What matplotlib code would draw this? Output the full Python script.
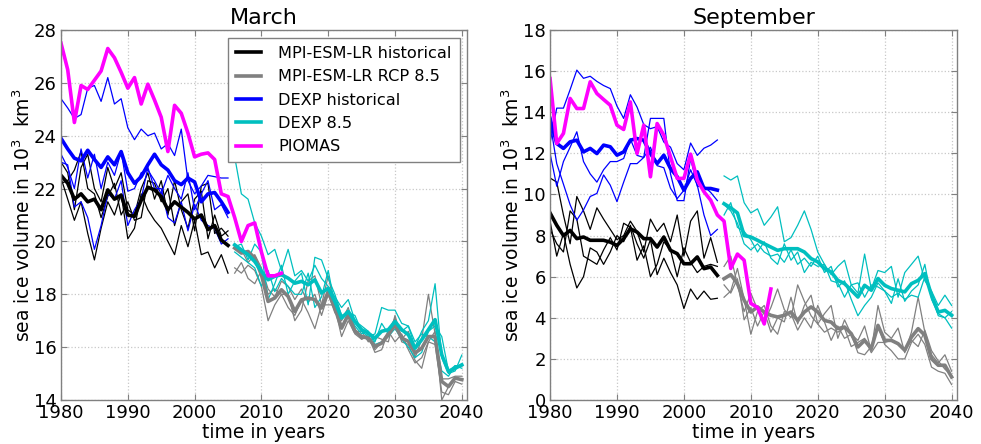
import numpy as np
import matplotlib
matplotlib.use("Agg")
import matplotlib.pyplot as plt

# ---------------- data ----------------
years_hist = list(range(1980, 2006))
years_proj = list(range(2006, 2041))
years_piomas = list(range(1980, 2014))

# March
mar_piomas = [27.5, 26.5, 24.5, 25.9, 25.75, 26.1, 26.45, 27.3, 26.95, 26.4, 25.8, 26.2, 25.2, 25.95,
              25.35, 24.7, 23.4, 25.15, 24.85, 24.1, 23.2, 23.3, 23.35, 23.1, 21.8, 21.7, 20.9, 20.0,
              20.6, 20.7, 19.6, 18.7, 18.7, 18.8]
mar_mpi_hist_mean = [22.5, 22.2, 21.6, 21.8, 21.5, 21.6, 21.2, 21.95, 21.6, 21.75, 21.0, 20.95, 21.55,
                     22.05, 21.95, 21.7, 21.2, 21.5, 21.3, 21.1, 20.85, 21.0, 20.45, 20.6, 20.05, 19.85]
mar_mpi_hist_m1 = [22.4, 21.6, 20.8, 21.5, 20.3, 19.3, 20.5, 21.5, 21.0, 21.8, 20.1, 20.5, 21.8, 21.2,
                   20.8, 20.5, 20.0, 19.5, 20.6, 19.8, 20.8, 19.5, 19.6, 19.0, 19.5, 18.8]
mar_mpi_hist_m2 = [23.0, 22.6, 21.2, 22.8, 23.3, 22.0, 21.5, 22.8, 22.0, 22.6, 21.2, 21.0, 22.0, 22.6,
                   21.6, 22.3, 21.0, 22.3, 21.2, 20.5, 21.6, 21.9, 20.1, 21.0, 20.2, 20.4]
mar_mpi_hist_m3 = [22.2, 22.3, 22.7, 23.4, 22.0, 21.8, 20.9, 21.7, 22.2, 21.0, 21.5, 20.8, 20.9, 22.3,
                   22.2, 21.5, 22.0, 20.6, 21.5, 21.8, 20.4, 22.1, 22.2, 20.3, 20.5, 20.2]
mar_dexp_hist_mean = [23.9, 23.5, 23.15, 23.05, 23.45, 23.1, 22.8, 23.2, 22.9, 23.4, 22.6, 22.2, 22.45,
                      22.9, 23.3, 22.9, 22.7, 22.3, 22.15, 22.4, 22.25, 21.5, 21.8, 21.85, 21.5, 21.1]
mar_dexp_hist_m1 = [25.4, 25.05, 24.65, 24.8, 25.8, 25.9, 25.3, 26.2, 25.2, 25.4, 24.3, 23.85, 24.25,
                    24.0, 24.1, 23.5, 23.7, 23.25, 24.25, 22.3, 21.8, 22.1, 22.5, 22.45, 22.4, 22.4]
mar_dexp_hist_m2 = [23.3, 22.8, 22.0, 23.5, 22.4, 23.3, 22.0, 23.0, 22.5, 23.4, 21.9, 22.0, 22.6, 22.7,
                    22.3, 21.8, 22.5, 22.0, 21.6, 22.6, 21.2, 21.8, 22.3, 21.2, 21.4, 20.9]
mar_dexp_hist_m3 = [23.0, 22.9, 21.3, 21.5, 20.9, 19.7, 20.6, 21.8, 21.6, 22.3, 20.6, 21.2, 21.6, 22.8,
                    22.0, 22.0, 20.9, 20.7, 21.5, 20.4, 21.4, 20.8, 20.6, 20.5, 19.9, 20.1]
mar_mpi_rcp_mean = [19.75, 19.56, 19.62, 19.37, 18.74, 17.73, 17.86, 18.17, 17.92, 17.35, 17.79, 17.86,
                    17.8, 17.48, 18.1, 17.48, 16.72, 17.23, 16.6, 16.4, 16.34, 16.03, 16.15, 16.47, 16.85,
                    16.34, 16.22, 15.78, 15.96, 16.4, 16.4, 14.7, 14.51, 14.83, 14.77]
mar_mpi_rcp_m1 = [19.0, 18.8, 19.1, 18.9, 18.3, 17.0, 17.6, 18.0, 17.5, 17.2, 17.8, 17.3, 16.7, 17.6,
                  18.7, 17.5, 16.4, 17.0, 16.5, 16.3, 16.4, 15.8, 15.9, 16.6, 16.2, 16.5, 15.9, 15.4, 15.6,
                  16.2, 16.1, 14.3, 14.2, 14.7, 14.6]
mar_mpi_rcp_m2 = [19.8, 19.7, 19.2, 19.5, 19.0, 18.2, 17.9, 18.5, 18.3, 17.8, 18.2, 17.7, 18.0, 17.2,
                  18.0, 17.3, 17.0, 17.5, 16.6, 16.6, 16.2, 16.4, 16.3, 16.2, 17.2, 16.3, 16.6, 15.6, 16.3,
                  18.0, 16.5, 14.8, 14.8, 14.9, 14.9]
mar_mpi_rcp_m3 = [18.8, 19.2, 18.6, 18.4, 18.9, 18.0, 18.2, 18.0, 18.0, 17.0, 17.4, 18.5, 18.7, 17.6,
                  17.6, 17.6, 16.8, 17.2, 16.7, 16.3, 16.5, 15.9, 16.2, 16.6, 17.1, 16.2, 16.1, 15.5, 15.2,
                  16.2, 16.6, 14.0, 14.5, 14.8, 14.8]
mar_dexp_rcp_mean = [19.87, 19.68, 19.5, 19.24, 18.87, 18.55, 18.68, 18.74, 18.61, 18.42, 18.49, 18.36,
                     18.55, 18.05, 18.23, 17.73, 17.1, 17.35, 16.97, 16.66, 16.53, 16.34, 16.6, 16.66,
                     16.97, 16.66, 16.47, 15.96, 16.28, 16.66, 17.04, 15.71, 15.08, 15.2, 15.33]
mar_dexp_rcp_m1 = [23.2, 21.8, 21.6, 20.7, 20.2, 19.5, 19.7, 18.9, 19.7, 18.7, 18.9, 18.5, 19.1, 18.6,
                   18.3, 17.9, 17.5, 17.8, 17.0, 16.8, 16.6, 16.2, 16.9, 16.5, 17.0, 16.6, 16.8, 16.0,
                   16.6, 17.0, 18.4, 15.6, 15.0, 15.1, 15.7]
mar_dexp_rcp_m2 = [19.8, 19.9, 19.3, 19.9, 19.6, 17.8, 18.4, 19.1, 18.0, 18.5, 18.8, 17.6, 19.4, 19.3,
                   18.6, 18.0, 17.2, 17.3, 17.2, 16.6, 16.4, 16.5, 17.5, 17.4, 17.4, 16.9, 16.8, 16.2,
                   16.5, 16.4, 16.2, 15.1, 14.9, 15.3, 15.2]
mar_dexp_rcp_m3 = [19.6, 19.4, 19.2, 19.0, 18.3, 18.9, 18.1, 18.6, 18.3, 18.0, 18.0, 18.8, 17.5, 17.9,
                   18.9, 17.6, 16.7, 17.3, 16.8, 16.5, 16.6, 16.1, 16.2, 16.4, 16.7, 16.3, 16.0, 15.6,
                   15.8, 16.6, 16.8, 16.4, 15.1, 15.3, 15.3]

# September
sep_piomas = [15.64, 12.48, 12.97, 14.67, 14.18, 14.18, 15.48, 14.91, 14.62, 14.34, 13.37, 13.16, 14.5,
              11.99, 13.37, 10.86, 13.45, 12.88, 11.83, 10.78, 10.78, 11.96, 10.7, 10.13, 9.72, 9.0,
              8.7, 6.4, 7.1, 6.8, 4.7, 4.5, 3.7, 5.4]
sep_mpi_hist_mean = [9.1, 8.5, 8.0, 8.25, 7.85, 7.93, 7.77, 7.77, 7.77, 7.68, 7.52, 7.85, 8.33, 8.17,
                     7.85, 7.85, 7.44, 7.93, 7.28, 7.12, 6.63, 6.63, 6.96, 6.39, 6.47, 6.06]
sep_mpi_hist_m1 = [8.7, 7.0, 8.1, 6.6, 5.45, 6.0, 7.4, 7.2, 6.6, 7.2, 8.0, 7.7, 8.5, 7.6, 6.9, 7.8, 6.1,
                   6.9, 6.2, 5.6, 4.45, 5.4, 4.9, 5.3, 4.9, 4.95]
sep_mpi_hist_m2 = [10.8, 10.6, 9.0, 7.6, 9.9, 9.2, 8.3, 9.35, 8.8, 8.3, 7.8, 8.0, 8.7, 8.2, 7.2, 8.8, 8.2,
                   8.6, 7.7, 9.0, 7.0, 8.7, 9.2, 6.9, 7.9, 6.7]
sep_mpi_hist_m3 = [8.3, 7.6, 7.2, 9.2, 8.8, 7.0, 6.8, 6.6, 7.3, 7.9, 7.3, 8.6, 8.4, 6.8, 7.5, 6.0, 6.6,
                   7.7, 7.3, 6.0, 7.4, 6.7, 6.2, 6.5, 6.6, 6.5]
sep_dexp_hist_mean = [13.7, 12.48, 12.24, 12.56, 12.64, 12.07, 12.24, 11.99, 12.4, 12.32, 11.91, 12.07,
                      12.64, 12.72, 12.64, 11.99, 11.5, 11.91, 11.26, 10.86, 10.21, 10.78, 11.1, 10.29,
                      10.29, 10.21]
sep_dexp_hist_m1 = [12.5, 14.2, 14.2, 15.1, 16.05, 15.65, 15.75, 15.5, 15.3, 15.15, 14.3, 13.7, 14.85,
                    14.25, 13.4, 13.2, 13.3, 12.55, 12.3, 11.5, 11.2, 12.5, 11.9, 12.25, 12.4, 12.65]
sep_dexp_hist_m2 = [12.0, 10.4, 11.6, 12.3, 13.05, 11.6, 11.0, 10.6, 11.2, 11.6, 11.6, 11.75, 12.7,
                    11.9, 11.8, 13.7, 13.7, 13.7, 11.0, 9.7, 9.7, 11.75, 10.4, 10.4, 10.1, 9.7]
sep_dexp_hist_m3 = [13.5, 11.5, 10.5, 9.5, 8.75, 9.25, 9.9, 10.05, 10.95, 10.45, 9.65, 10.6, 11.5, 11.5,
                    11.8, 12.3, 11.4, 11.3, 10.3, 9.8, 10.2, 11.2, 10.45, 9.0, 8.0, 8.3]
sep_mpi_rcp_mean = [5.9, 6.1, 5.66, 4.85, 4.28, 4.53, 4.28, 4.12, 4.04, 4.12, 4.28, 3.87, 4.28, 4.53,
                    4.28, 3.87, 3.79, 3.47, 3.55, 3.23, 2.58, 2.9, 2.5, 3.63, 2.9, 2.9, 2.74, 2.42, 3.06,
                    3.47, 3.15, 2.01, 1.69, 1.69, 1.12]
sep_mpi_rcp_m1 = [5.0, 5.3, 6.4, 4.9, 3.2, 4.3, 4.6, 3.6, 3.2, 4.3, 4.2, 3.4, 4.0, 3.5, 4.6, 3.8, 2.9,
                  3.6, 3.0, 3.2, 2.3, 2.2, 2.6, 3.6, 2.7, 2.4, 2.0, 2.0, 2.8, 3.2, 2.7, 1.6, 1.4, 1.3, 0.75]
sep_mpi_rcp_m2 = [6.5, 7.0, 5.6, 4.3, 5.2, 4.4, 3.8, 4.5, 5.4, 4.4, 4.0, 5.6, 4.8, 4.1, 3.7, 4.2, 4.6,
                  3.0, 3.9, 3.2, 2.9, 3.6, 2.4, 4.6, 3.3, 3.0, 3.5, 2.3, 3.3, 5.0, 3.3, 2.2, 1.8, 2.2, 1.4]
sep_mpi_rcp_m3 = [5.6, 5.2, 5.9, 3.9, 4.5, 3.6, 4.3, 3.3, 4.0, 3.8, 5.0, 3.7, 4.6, 5.1, 3.7, 3.3, 3.5,
                  3.3, 3.5, 2.6, 2.8, 3.0, 2.3, 2.8, 2.8, 2.9, 2.7, 2.4, 2.9, 2.6, 3.4, 2.4, 1.9, 1.5, 1.2]
sep_dexp_rcp_mean = [9.55, 9.35, 9.1, 8.0, 7.93, 7.77, 7.6, 7.44, 7.28, 7.36, 7.36, 7.36, 7.2, 6.88,
                     6.72, 6.39, 6.23, 5.82, 5.66, 5.34, 5.01, 5.58, 5.34, 5.91, 5.58, 5.42, 5.34, 5.26,
                     5.66, 5.82, 6.15, 5.09, 4.28, 4.36, 4.12]
sep_dexp_rcp_m1 = [10.9, 10.7, 10.9, 9.6, 9.1, 9.3, 8.5, 8.9, 9.4, 7.7, 7.9, 8.5, 9.2, 8.3, 7.2, 6.6,
                   6.1, 6.5, 6.8, 5.6, 5.2, 7.1, 5.4, 6.3, 6.2, 6.5, 5.0, 6.2, 6.6, 7.0, 5.8, 5.3, 4.6, 5.1, 4.6]
sep_dexp_rcp_m2 = [9.5, 9.2, 8.6, 7.6, 7.3, 7.6, 7.2, 7.0, 7.1, 6.7, 7.3, 6.6, 6.9, 6.5, 7.0, 6.2, 6.5,
                   5.5, 5.8, 4.9, 4.1, 4.6, 5.0, 5.7, 5.3, 4.7, 5.9, 4.8, 5.3, 5.6, 6.6, 4.9, 4.2, 4.0, 4.3]
sep_dexp_rcp_m3 = [9.0, 9.6, 8.4, 8.2, 7.8, 7.2, 7.7, 6.9, 6.6, 7.6, 6.8, 7.2, 6.2, 6.7, 6.5, 6.6, 5.8,
                   5.7, 5.0, 5.6, 5.7, 5.0, 5.6, 5.5, 5.3, 5.0, 5.2, 4.9, 5.1, 5.0, 6.0, 5.2, 4.1, 4.0, 3.5]

legend_labels = ["MPI-ESM-LR historical", "MPI-ESM-LR RCP 8.5", "DEXP historical", "DEXP 8.5", "PIOMAS"]
xticks = [1980, 1990, 2000, 2010, 2020, 2030, 2040]
mar_yticks = [14, 16, 18, 20, 22, 24, 26, 28]
sep_yticks = [0, 2, 4, 6, 8, 10, 12, 14, 16, 18]

# ---------------- styling ----------------
C_BLACK = "#000000"
C_GRAY = "#808080"
C_BLUE = "#0000ff"
C_CYAN = "#00bfbf"
C_MAG = "#ff00ff"
LW_THIN = 0.9
LW_THICK = 2.6

plt.rcParams["font.family"] = ["DejaVu Sans"]

fig = plt.figure(figsize=(9.81, 4.44), dpi=100)
ax1 = fig.add_axes([0.0622, 0.0991, 0.4140, 0.8333])
ax2 = fig.add_axes([0.5607, 0.0991, 0.4148, 0.8333])


def draw(ax, d, yticks, ylim, title, legend):
    for m in d["mpi_hist_m"]:
        ax.plot(years_hist, m, color=C_BLACK, lw=LW_THIN)
    for m in d["dexp_hist_m"]:
        ax.plot(years_hist, m, color=C_BLUE, lw=LW_THIN)
    for m in d["mpi_rcp_m"]:
        ax.plot(years_proj, m, color=C_GRAY, lw=LW_THIN)
    for m in d["dexp_rcp_m"]:
        ax.plot(years_proj, m, color=C_CYAN, lw=LW_THIN)
    h1, = ax.plot(years_hist, d["mpi_hist_mean"], color=C_BLACK, lw=LW_THICK)
    h2, = ax.plot(years_proj, d["mpi_rcp_mean"], color=C_GRAY, lw=LW_THICK)
    h3, = ax.plot(years_hist, d["dexp_hist_mean"], color=C_BLUE, lw=LW_THICK)
    h4, = ax.plot(years_proj, d["dexp_rcp_mean"], color=C_CYAN, lw=LW_THICK)
    h5, = ax.plot(years_piomas, d["piomas"], color=C_MAG, lw=LW_THICK)
    ax.set_xlim(1980, 2040.8)
    ax.set_ylim(*ylim)
    ax.set_xticks(xticks)
    ax.set_yticks(yticks)
    ax.grid(True, color="#c8c8c8", linestyle=":", linewidth=0.9)
    ax.set_axisbelow(True)
    for s in ax.spines.values():
        s.set_color("#808080")
        s.set_linewidth(1.0)
    ax.tick_params(direction="in", length=4, color="#808080", labelsize=13,
                   top=True, right=True, pad=3)
    ax.set_title(title, fontsize=16, pad=4)
    ax.set_xlabel("time in years", fontsize=13.5, labelpad=0.5)
    ax.set_ylabel("sea ice volume in 10$^3$  km$^3$", fontsize=13.5, labelpad=0)
    if legend:
        leg = ax.legend([h1, h2, h3, h4, h5], legend_labels, loc="upper right",
                        bbox_to_anchor=(0.982, 0.979), fontsize=11.6, fancybox=False,
                        framealpha=1, edgecolor="#808080", handlelength=1.6,
                        borderpad=0.5, labelspacing=0.52, handletextpad=1.05,
                        borderaxespad=0)
        leg.get_frame().set_linewidth(1.0)


mar = dict(piomas=mar_piomas, mpi_hist_mean=mar_mpi_hist_mean,
           mpi_hist_m=[mar_mpi_hist_m1, mar_mpi_hist_m2, mar_mpi_hist_m3],
           dexp_hist_mean=mar_dexp_hist_mean,
           dexp_hist_m=[mar_dexp_hist_m1, mar_dexp_hist_m2, mar_dexp_hist_m3],
           mpi_rcp_mean=mar_mpi_rcp_mean, mpi_rcp_m=[mar_mpi_rcp_m1, mar_mpi_rcp_m2, mar_mpi_rcp_m3],
           dexp_rcp_mean=mar_dexp_rcp_mean, dexp_rcp_m=[mar_dexp_rcp_m1, mar_dexp_rcp_m2, mar_dexp_rcp_m3])
sep = dict(piomas=sep_piomas, mpi_hist_mean=sep_mpi_hist_mean,
           mpi_hist_m=[sep_mpi_hist_m1, sep_mpi_hist_m2, sep_mpi_hist_m3],
           dexp_hist_mean=sep_dexp_hist_mean,
           dexp_hist_m=[sep_dexp_hist_m1, sep_dexp_hist_m2, sep_dexp_hist_m3],
           mpi_rcp_mean=sep_mpi_rcp_mean, mpi_rcp_m=[sep_mpi_rcp_m1, sep_mpi_rcp_m2, sep_mpi_rcp_m3],
           dexp_rcp_mean=sep_dexp_rcp_mean, dexp_rcp_m=[sep_dexp_rcp_m1, sep_dexp_rcp_m2, sep_dexp_rcp_m3])

draw(ax1, mar, mar_yticks, (14, 28), "March", True)
draw(ax2, sep, sep_yticks, (0, 18), "September", False)

fig.savefig("out.png", dpi=100)
